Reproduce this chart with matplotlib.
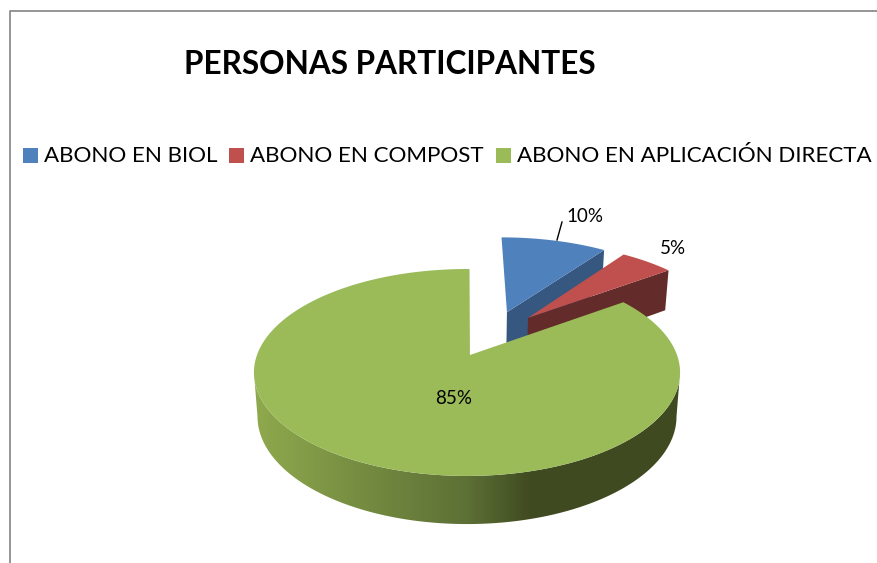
#! /usr/bin/env python3
"""
Exploded 3D style pie of the participants, drawn in pixel coordinates
"""
import numpy as np
from matplotlib import pyplot as plt
from matplotlib.colors import LinearSegmentedColormap
from matplotlib.patches import Polygon, Rectangle

title = 'PERSONAS PARTICIPANTES'
categories = ['ABONO EN BIOL', 'ABONO EN COMPOST', 'ABONO EN APLICACIÓN DIRECTA']
values = [10, 5, 85]
top_colors = ['#4f81bd', '#c0504d', '#9bbb59']
side_colors = ['#36577f', '#632b29', '#3f4a20']
# explosion of every slice on the disc plane
offsets = [(0.205, -0.459), (0.31, -0.3947), (0.0, 0.0)]
legend_x = [23, 229, 496]
label_pos = [(585, 217), (673, 249), (454, 399)]

P = 0.169


def project(u, v, z=0.0):
    """disc coordinates to pixels, z=0 top face, z=1 bottom face"""
    d = 1 - P * v
    x = 467 + (210 - 3.5 * z) * u / d
    y0 = 355 + z * 43.3
    k = 100.5 + z * 4.0
    return x, y0 + k * v / d


def rim(a0, a1, off, rot=0.0, z=0.0, n=400):
    a = np.radians(np.linspace(a0, a1, n) + rot)
    return project(off[0] + np.sin(a), off[1] - np.cos(a), z)


fig = plt.figure(figsize=(8.77, 5.63), dpi=100)
ax = fig.add_axes([0, 0, 1, 1])
ax.set_xlim(0, 877)
ax.set_ylim(563, 0)
ax.axis('off')

# chart frame, right side and bottom are cut by the image
ax.plot([9.5, 9.5, 877], [563, 10.5, 10.5], color='#8c8c8c', lw=1.3)

ends = np.cumsum(values) * 3.6
starts = ends - np.array(values) * 3.6

# blue and red only show their cut face
for i in (0, 1):
    off = offsets[i]
    xa, ya = project(off[0], off[1])
    xb, yb = project(off[0], off[1], 1)
    xr, yr = rim(ends[i], ends[i], off, n=1)
    xs, ys = rim(ends[i], ends[i], off, z=1, n=1)
    ax.add_patch(Polygon([(xa, ya), (xr[0], yr[0]), (xs[0], ys[0]), (xb, yb)],
                         fc=side_colors[i], ec='none'))
    xr, yr = rim(starts[i], ends[i], off)
    ax.add_patch(Polygon(np.r_[[(xa, ya)], np.c_[xr, yr]], fc=top_colors[i], ec='none'))

# green side wall, from silhouette to silhouette, with horizontal shading
off = offsets[2]
xt, yt = rim(99.7, 260.3, off)
xd, yd = rim(99.7, 260.3, off, z=1)
wall = Polygon(np.r_[np.c_[xt, yt], np.c_[xd, yd][::-1]], fc='none', ec='none')
ax.add_patch(wall)
shade = LinearSegmentedColormap.from_list('wall', [(0, '#8fa94e'), (0.27, '#738a40'),
                                                   (0.5, '#5d7036'), (0.655, '#3f4a20'),
                                                   (1, '#3f4a20')])
im = ax.imshow(np.linspace(0, 1, 426)[None, :], cmap=shade, extent=(254, 680, 530, 260),
               aspect='auto', zorder=1)
im.set_clip_path(wall)
ax.set_xlim(0, 877)
ax.set_ylim(563, 0)

xt, yt = rim(starts[2], ends[2], off, rot=0.8)
xa, ya = project(0.014, 0.0)
ax.add_patch(Polygon(np.r_[[(xa, ya)], np.c_[xt, yt]], fc=top_colors[2], ec='none', zorder=2))

# texts
font = 'Lato'
ax.text(390, 64.5, title, fontsize=22.7, fontweight='bold', family=font, ha='center', va='center', color='k')
for x, name, c in zip(legend_x, categories, top_colors):
    ax.add_patch(Rectangle((x, 148), 15, 15, fc=c, ec='none'))
    ax.text(x + 21, 156.5, name, fontsize=16.1, family=font, ha='left', va='center', color='k')
for (x, y), v in zip(label_pos, values):
    ax.text(x, y, f'{v}%', fontsize=13.5, family=font, ha='center', va='center', color='k', zorder=3)
ax.plot([557, 562], [240, 222], color='k', lw=1, zorder=3)

fig.savefig('out.png', dpi=100)
